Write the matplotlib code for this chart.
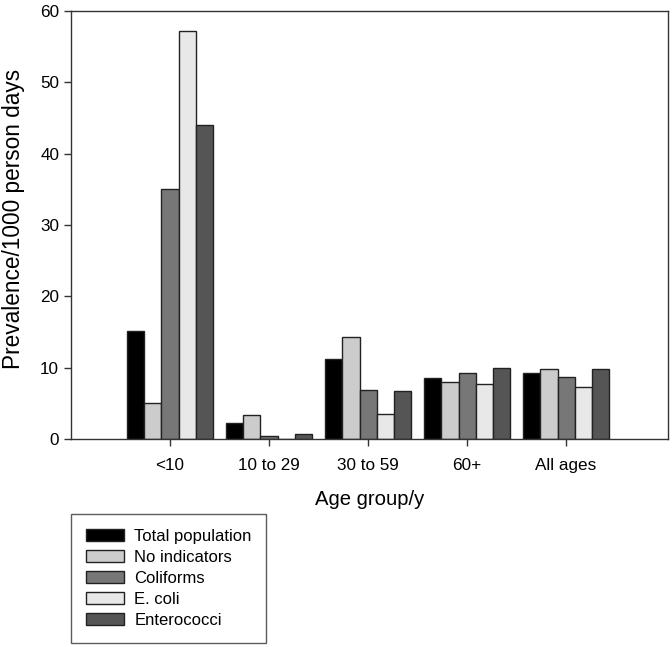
import matplotlib
matplotlib.use("Agg")
import matplotlib.pyplot as plt
from matplotlib.patches import Patch
import numpy as np

plt.rcParams['font.family'] = ['Liberation Sans', 'DejaVu Sans']

groups = ["<10", "10 to 29", "30 to 59", "60+", "All ages"]
series_names = ["Total population", "No indicators", "Coliforms", "E. coli", "Enterococci"]
total_population = [15.1, 2.3, 11.2, 8.6, 9.3]
no_indicators = [5.0, 3.3, 14.35, 7.95, 9.85]
coliforms = [35.05, 0.45, 6.8, 9.2, 8.65]
e_coli = [57.2, 0.0, 3.55, 7.65, 7.3]
enterococci = [44.05, 0.7, 6.75, 9.9, 9.8]
colors = ["#000000", "#cccccc", "#777777", "#e8e8e8", "#555555"]

series = [total_population, no_indicators, coliforms, e_coli, enterococci]

fig = plt.figure(figsize=(6.72, 6.47), dpi=100)
ax = fig.add_axes([71/672, 1 - 439/647, (668-71)/672, (439-11)/647])

x = np.arange(len(groups))
w = 0.172
for i, (vals, c) in enumerate(zip(series, colors)):
    ax.bar(x + (i - 2) * w, vals, width=w, color=c, edgecolor="#222222", linewidth=1.0)

ax.set_xlim(-1.0, 5.03)
ax.set_ylim(0, 60)
ax.set_yticks([0, 10, 20, 30, 40, 50, 60])
ax.set_xticks(x)
ax.set_xticklabels(groups)
ax.tick_params(axis='both', direction='out', length=5, width=1, labelsize=12.3, color="#333333")
ax.tick_params(axis='x', pad=9)
for s in ax.spines.values():
    s.set_color("#333333")
    s.set_linewidth(1)
ax.set_xlabel("Age group/y", fontsize=14.6, labelpad=12)
ax.set_ylabel("Prevalence/1000 person days", fontsize=16.3)
ax.yaxis.set_label_coords(-0.077, 0.515)

handles = [Patch(facecolor=c, edgecolor="#222222", linewidth=1) for c in colors]
leg = fig.legend(handles, series_names, loc='upper left',
                 bbox_to_anchor=(71/672, 5/647, 195/672, 128/647), mode='expand',
                 fontsize=12, frameon=True, fancybox=False, edgecolor="#333333",
                 handlelength=2.3, handleheight=0.75, handletextpad=0.6,
                 labelspacing=0.36, borderpad=0.9, borderaxespad=0)
leg.get_frame().set_linewidth(1)

fig.savefig("out.png", dpi=100)
